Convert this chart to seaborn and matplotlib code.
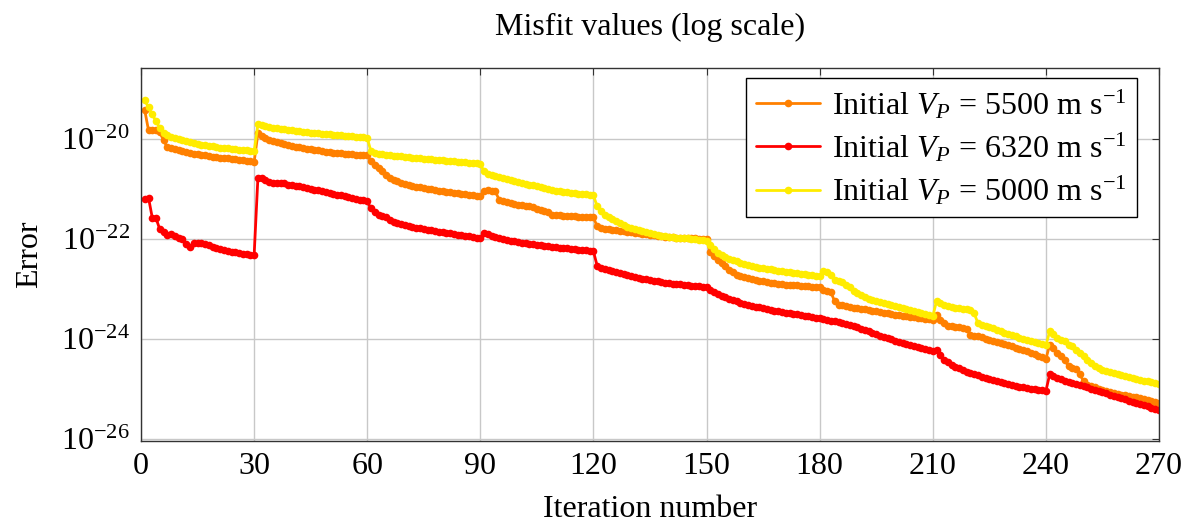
import numpy as np
import pandas as pd
import matplotlib
matplotlib.use("Agg")
import matplotlib.pyplot as plt
import seaborn as sns

# iterations 1..270 (9 restarts of 30 iterations each)
iterations = list(range(1, 271))

# log10 of the misfit, one row per 30-iteration block
log_err_5500 = [
    -19.43, -19.83, -19.82, -19.82, -19.87, -20.03, -20.17, -20.19, -20.21, -20.23,
    -20.25, -20.27, -20.28, -20.30, -20.31, -20.32, -20.33, -20.34, -20.36, -20.37,
    -20.38, -20.39, -20.39, -20.40, -20.41, -20.42, -20.43, -20.44, -20.45, -20.46,
    -19.89, -19.95, -19.99, -20.02, -20.05, -20.07, -20.09, -20.11, -20.13, -20.15,
    -20.16, -20.17, -20.18, -20.20, -20.21, -20.22, -20.23, -20.25, -20.26, -20.27,
    -20.28, -20.28, -20.29, -20.30, -20.30, -20.31, -20.32, -20.32, -20.33, -20.33,
    -20.44, -20.52, -20.59, -20.65, -20.73, -20.79, -20.82, -20.85, -20.88, -20.91,
    -20.93, -20.94, -20.96, -20.97, -20.99, -21.00, -21.01, -21.03, -21.04, -21.05,
    -21.06, -21.07, -21.08, -21.09, -21.10, -21.11, -21.12, -21.13, -21.14, -21.15,
    -21.04, -21.03, -21.04, -21.05, -21.22, -21.24, -21.27, -21.29, -21.31, -21.32,
    -21.33, -21.34, -21.35, -21.37, -21.41, -21.43, -21.45, -21.46, -21.52, -21.53,
    -21.53, -21.54, -21.54, -21.55, -21.55, -21.56, -21.56, -21.56, -21.57, -21.57,
    -21.75, -21.79, -21.80, -21.81, -21.82, -21.83, -21.84, -21.85, -21.86, -21.87,
    -21.88, -21.89, -21.90, -21.91, -21.92, -21.93, -21.94, -21.95, -21.96, -21.97,
    -21.97, -21.98, -21.98, -21.98, -21.99, -21.99, -21.99, -22.00, -22.00, -22.00,
    -22.27, -22.35, -22.42, -22.48, -22.54, -22.63, -22.67, -22.72, -22.75, -22.77,
    -22.79, -22.80, -22.82, -22.84, -22.85, -22.86, -22.88, -22.89, -22.90, -22.91,
    -22.92, -22.92, -22.93, -22.93, -22.94, -22.95, -22.95, -22.96, -22.96, -22.97,
    -23.02, -23.04, -23.07, -23.25, -23.32, -23.33, -23.35, -23.37, -23.38, -23.39,
    -23.40, -23.41, -23.42, -23.44, -23.45, -23.46, -23.48, -23.49, -23.50, -23.52,
    -23.53, -23.54, -23.55, -23.56, -23.57, -23.58, -23.59, -23.60, -23.61, -23.62,
    -23.52, -23.62, -23.69, -23.75, -23.75, -23.76, -23.77, -23.78, -23.80, -23.92,
    -23.94, -23.95, -23.97, -24.00, -24.02, -24.04, -24.06, -24.08, -24.11, -24.13,
    -24.15, -24.18, -24.20, -24.23, -24.25, -24.28, -24.31, -24.34, -24.37, -24.40,
    -24.12, -24.19, -24.29, -24.35, -24.42, -24.55, -24.59, -24.61, -24.70, -24.85,
    -24.92, -24.95, -24.97, -25.00, -25.02, -25.04, -25.06, -25.08, -25.10, -25.12,
    -25.13, -25.15, -25.16, -25.17, -25.19, -25.21, -25.23, -25.25, -25.27, -25.29,
]

log_err_6320 = [
    -21.20, -21.18, -21.58, -21.59, -21.81, -21.86, -21.93, -21.90, -21.95, -21.98,
    -22.01, -22.11, -22.17, -22.09, -22.09, -22.09, -22.11, -22.13, -22.16, -22.19,
    -22.21, -22.23, -22.24, -22.26, -22.27, -22.28, -22.30, -22.31, -22.32, -22.33,
    -20.78, -20.79, -20.83, -20.86, -20.88, -20.88, -20.88, -20.89, -20.93, -20.93,
    -20.94, -20.95, -20.97, -20.98, -21.00, -21.02, -21.03, -21.05, -21.06, -21.08,
    -21.10, -21.12, -21.13, -21.15, -21.17, -21.19, -21.20, -21.22, -21.23, -21.25,
    -21.39, -21.47, -21.52, -21.54, -21.57, -21.63, -21.66, -21.69, -21.71, -21.73,
    -21.75, -21.76, -21.78, -21.79, -21.81, -21.82, -21.83, -21.85, -21.86, -21.87,
    -21.88, -21.89, -21.91, -21.92, -21.93, -21.94, -21.95, -21.97, -21.98, -21.99,
    -21.89, -21.91, -21.94, -21.96, -21.99, -22.01, -22.02, -22.04, -22.05, -22.07,
    -22.08, -22.09, -22.10, -22.11, -22.12, -22.13, -22.14, -22.15, -22.16, -22.17,
    -22.18, -22.19, -22.19, -22.20, -22.21, -22.22, -22.23, -22.23, -22.24, -22.25,
    -22.54, -22.58, -22.61, -22.63, -22.65, -22.67, -22.69, -22.71, -22.73, -22.75,
    -22.77, -22.78, -22.80, -22.81, -22.83, -22.84, -22.85, -22.86, -22.88, -22.89,
    -22.90, -22.91, -22.91, -22.92, -22.93, -22.94, -22.95, -22.95, -22.96, -22.97,
    -23.02, -23.07, -23.11, -23.14, -23.17, -23.20, -23.23, -23.25, -23.28, -23.30,
    -23.32, -23.34, -23.36, -23.37, -23.39, -23.41, -23.42, -23.44, -23.45, -23.47,
    -23.48, -23.49, -23.50, -23.51, -23.52, -23.54, -23.55, -23.56, -23.58, -23.59,
    -23.61, -23.62, -23.64, -23.65, -23.67, -23.69, -23.71, -23.73, -23.75, -23.77,
    -23.80, -23.83, -23.85, -23.88, -23.91, -23.94, -23.96, -23.99, -24.01, -24.04,
    -24.06, -24.08, -24.11, -24.13, -24.15, -24.17, -24.19, -24.21, -24.23, -24.25,
    -24.22, -24.32, -24.42, -24.47, -24.52, -24.56, -24.59, -24.63, -24.66, -24.69,
    -24.71, -24.73, -24.76, -24.78, -24.80, -24.82, -24.84, -24.87, -24.89, -24.91,
    -24.93, -24.94, -24.96, -24.97, -24.99, -25.00, -25.01, -25.02, -25.03, -25.04,
    -24.71, -24.75, -24.78, -24.81, -24.84, -24.86, -24.88, -24.90, -24.93, -24.95,
    -24.97, -25.00, -25.02, -25.05, -25.07, -25.09, -25.12, -25.14, -25.17, -25.19,
    -25.21, -25.24, -25.26, -25.29, -25.31, -25.33, -25.35, -25.38, -25.40, -25.42,
]

log_err_5000 = [
    -19.23, -19.37, -19.51, -19.65, -19.78, -19.88, -19.93, -19.96, -19.99, -20.01,
    -20.03, -20.05, -20.07, -20.09, -20.11, -20.12, -20.13, -20.14, -20.15, -20.17,
    -20.18, -20.19, -20.19, -20.20, -20.21, -20.22, -20.22, -20.23, -20.24, -20.25,
    -19.71, -19.73, -19.75, -19.76, -19.78, -19.79, -19.80, -19.81, -19.82, -19.83,
    -19.84, -19.85, -19.86, -19.87, -19.88, -19.88, -19.89, -19.90, -19.90, -19.91,
    -19.92, -19.92, -19.93, -19.94, -19.95, -19.95, -19.96, -19.97, -19.97, -19.98,
    -20.25, -20.29, -20.30, -20.31, -20.32, -20.33, -20.34, -20.34, -20.35, -20.36,
    -20.37, -20.38, -20.38, -20.39, -20.40, -20.41, -20.41, -20.42, -20.42, -20.43,
    -20.44, -20.44, -20.45, -20.46, -20.47, -20.47, -20.48, -20.49, -20.49, -20.50,
    -20.65, -20.71, -20.73, -20.75, -20.77, -20.79, -20.81, -20.83, -20.85, -20.87,
    -20.89, -20.90, -20.92, -20.93, -20.95, -20.97, -20.99, -21.00, -21.02, -21.04,
    -21.05, -21.06, -21.07, -21.08, -21.09, -21.10, -21.11, -21.11, -21.12, -21.13,
    -21.35, -21.45, -21.52, -21.57, -21.61, -21.65, -21.69, -21.72, -21.76, -21.79,
    -21.81, -21.83, -21.85, -21.87, -21.89, -21.91, -21.92, -21.94, -21.95, -21.97,
    -21.97, -21.98, -21.98, -21.99, -21.99, -22.00, -22.01, -22.02, -22.03, -22.05,
    -22.12, -22.21, -22.29, -22.33, -22.37, -22.40, -22.43, -22.45, -22.48, -22.50,
    -22.52, -22.54, -22.56, -22.58, -22.59, -22.60, -22.61, -22.62, -22.64, -22.65,
    -22.66, -22.67, -22.68, -22.69, -22.70, -22.71, -22.72, -22.73, -22.74, -22.75,
    -22.65, -22.66, -22.72, -22.82, -22.85, -22.87, -22.93, -22.96, -23.04, -23.09,
    -23.13, -23.17, -23.20, -23.22, -23.25, -23.27, -23.29, -23.31, -23.33, -23.35,
    -23.37, -23.39, -23.41, -23.43, -23.45, -23.47, -23.49, -23.51, -23.53, -23.55,
    -23.24, -23.29, -23.33, -23.35, -23.37, -23.38, -23.39, -23.40, -23.41, -23.42,
    -23.49, -23.69, -23.72, -23.75, -23.77, -23.79, -23.82, -23.84, -23.88, -23.91,
    -23.93, -23.95, -23.98, -24.00, -24.02, -24.04, -24.06, -24.08, -24.10, -24.13,
    -23.85, -23.91, -23.99, -24.02, -24.05, -24.12, -24.14, -24.22, -24.28, -24.35,
    -24.42, -24.49, -24.54, -24.58, -24.62, -24.65, -24.67, -24.69, -24.71, -24.73,
    -24.75, -24.77, -24.79, -24.80, -24.82, -24.84, -24.85, -24.87, -24.88, -24.90,
]

labels = [
    r"Initial $V_P$ = 5500 m s$^{-1}$",
    r"Initial $V_P$ = 6320 m s$^{-1}$",
    r"Initial $V_P$ = 5000 m s$^{-1}$",
]
colors = ["#ff8000", "#ff0000", "#ffec00"]

x_ticks = [0, 30, 60, 90, 120, 150, 180, 210, 240, 270]
y_ticks = [1e-20, 1e-22, 1e-24, 1e-26]
y_tick_labels = [r"$10^{-20}$", r"$10^{-22}$", r"$10^{-24}$", r"$10^{-26}$"]

# long-form table for seaborn
frames = []
for lab, logs in zip(labels, [log_err_5500, log_err_6320, log_err_5000]):
    frames.append(pd.DataFrame({"Iteration": iterations,
                                "Error": 10.0 ** np.array(logs),
                                "Run": lab}))
df = pd.concat(frames, ignore_index=True)

sns.set_theme(style="white")
plt.rcParams['font.family'] = ['Liberation Serif', 'DejaVu Serif']
plt.rcParams['mathtext.fontset'] = 'custom'
plt.rcParams['mathtext.rm'] = 'Liberation Serif'
plt.rcParams['mathtext.it'] = 'Liberation Serif:italic'
plt.rcParams['mathtext.bf'] = 'Liberation Serif:bold'
for key in ['text.color', 'axes.labelcolor', 'xtick.labelcolor', 'ytick.labelcolor']:
    plt.rcParams[key] = 'black'

fig = plt.figure(figsize=(11.93, 5.27), dpi=100)
ax = fig.add_axes([0.1182, 0.1632, 0.8533, 0.7078])

sns.lineplot(data=df, x="Iteration", y="Error", hue="Run", hue_order=labels,
             palette=colors, marker="o", markersize=5.5, markeredgewidth=0,
             linewidth=2.0, ax=ax)

ax.set_yscale("log")
ax.set_xlim(0, 270)
ax.set_ylim(10 ** -26.04, 10 ** -18.58)
ax.set_xticks(x_ticks)
ax.set_xticklabels([str(t) for t in x_ticks])
ax.set_yticks(y_ticks)
ax.set_yticklabels(y_tick_labels)
ax.minorticks_off()
ax.grid(True, color="#c8c8c8", linewidth=1.0)
ax.tick_params(direction="in", length=5, width=0.8, color="#333333",
               top=True, right=True, labelsize=23, pad=8)
for sp in ax.spines.values():
    sp.set_color("#333333")
    sp.set_linewidth(1.0)

ax.set_xlabel("Iteration number", fontsize=23, labelpad=10)
ax.set_ylabel("Error", fontsize=23, labelpad=12)
ax.set_title("Misfit values (log scale)", fontsize=23, pad=24)

leg = ax.legend(loc="upper right", bbox_to_anchor=(0.978, 0.973),
                fontsize=23, frameon=True, fancybox=False,
                edgecolor="black", framealpha=1, borderpad=0.3,
                labelspacing=0.3, handlelength=2.0, handletextpad=0.4,
                borderaxespad=0.0)
leg.get_frame().set_linewidth(1.0)

fig.savefig("out.png", dpi=100)
